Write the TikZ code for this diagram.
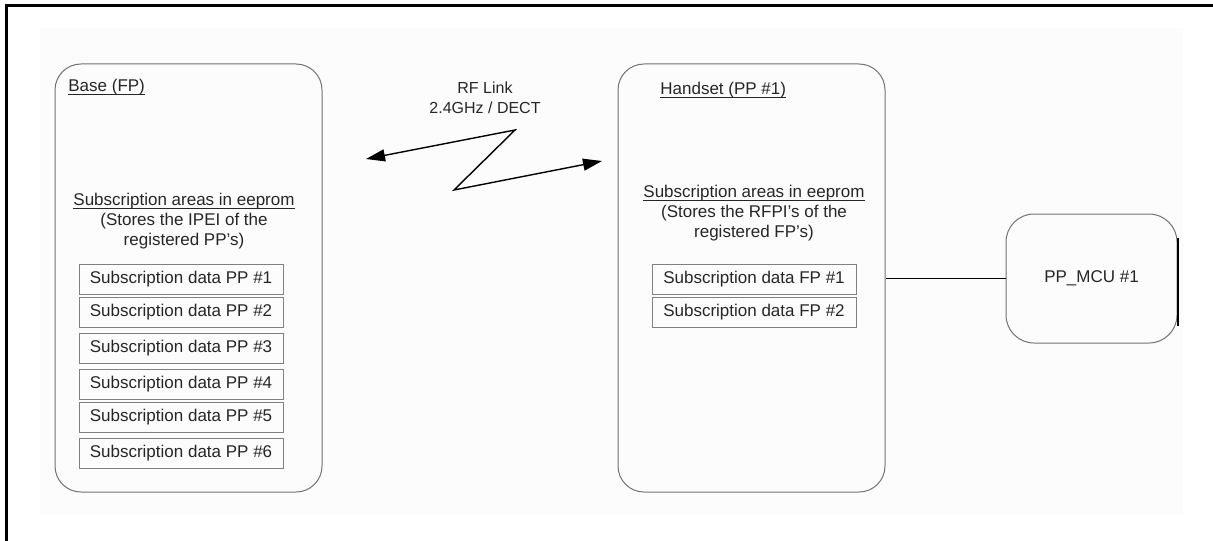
\documentclass[tikz,border=0pt]{standalone}
\usepackage{fontspec}
\setmainfont{Liberation Sans}
\newcommand\ulinetext[1]{\setbox0\hbox{#1}\rlap{\rule[-1.6pt]{\wd0}{0.35pt}}\box0}
\usetikzlibrary{arrows.meta,positioning}

\begin{document}
\begin{tikzpicture}[x=0.5pt,y=-0.5pt,
    font=\fontsize{8.5}{10}\selectfont,
    every node/.style={text=black!85},
    unit/.style={draw=black!55,line width=0.5pt,rounded corners=13pt,inner sep=0pt},
    sub/.style={draw=black!50,line width=0.5pt,inner sep=0pt,minimum width=102pt,minimum height=15pt},
    rflink/.style={line width=0.7pt,{Triangle[length=9.5pt,width=6pt]}-{Triangle[length=9.5pt,width=6pt]}}]
    \useasboundingbox (0,0) rectangle (1213,540);
    \fill[black!1] (40,28) rectangle (1183,515);
    \draw[line width=1.5pt] (6,560) -- (6,6) -- (1230,6);

    % base
    \node[unit,minimum width=133.5pt,minimum height=214pt] (base) at (188.5,278) {};
    \node[anchor=west,inner sep=0pt] (baselabel) at (68,87) {\ulinetext{Base (FP)}};
    \node[align=center,inner sep=0pt] (basetext) at (184,221) {\ulinetext{Subscription areas in eeprom}\\(Stores the IPEI of the\\registered PP's)};

    \node[sub] (pp1) at (181,279) {Subscription data PP \#1};
    \node[sub] (pp2) at (181,312) {Subscription data PP \#2};
    \node[sub] (pp3) at (181,348) {Subscription data PP \#3};
    \node[sub] (pp4) at (181,384) {Subscription data PP \#4};
    \node[sub] (pp5) at (181,417) {Subscription data PP \#5};
    \node[sub] (pp6) at (181,453) {Subscription data PP \#6};

    % handset
    \node[unit,minimum width=133.5pt,minimum height=214pt] (hs) at (751.5,278) {};
    \node[anchor=west,inner sep=0pt] (hslabel) at (660,90) {\ulinetext{Handset (PP \#1)}};
    \node[align=center,inner sep=0pt] (hstext) at (754,213) {\ulinetext{Subscription areas in eeprom}\\(Stores the RFPI's of the\\registered FP's)};

    \node[sub] (fp1) at (754,279) {Subscription data FP \#1};
    \node[sub] (fp2) at (754,312) {Subscription data FP \#2};

    % mcu
    \node[unit,rounded corners=14pt,minimum width=85.5pt,minimum height=64.5pt] (mcu) at (1091.5,278.5) {PP\_MCU \#1};
    \draw[line width=1pt] ([yshift=20.5pt]mcu.east) -- ([yshift=-23.5pt]mcu.east);
    \draw[line width=0.7pt] (mcu.west) -- (mcu.west -| hs.east);

    % rf link
    \node[font=\fontsize{8}{10}\selectfont,align=center,inner sep=0pt] (rflabel) at (485,98) {RF Link\\2.4GHz / DECT};
    \coordinate (rfL) at (366,159);
    \coordinate (rfA) at (515,130);
    \coordinate (rfB) at (454,190);
    \coordinate (rfR) at (602,161);
    \draw[rflink] (rfL) -- (rfA) -- (rfB) -- (rfR);
\end{tikzpicture}
\end{document}
